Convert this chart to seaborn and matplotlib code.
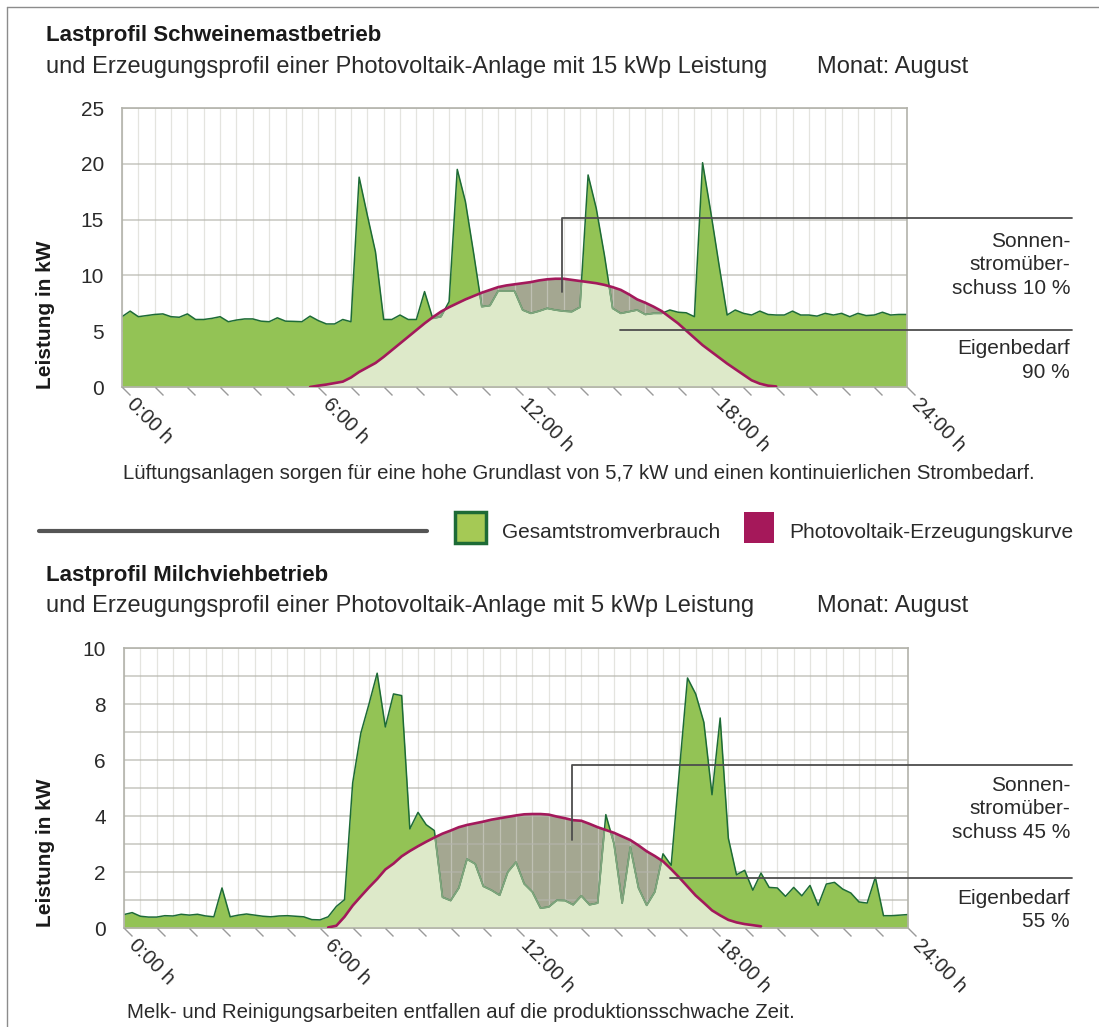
import numpy as np
import pandas as pd
import matplotlib
matplotlib.use("Agg")
import matplotlib.pyplot as plt
import matplotlib.transforms as mtransforms
from matplotlib.lines import Line2D
from matplotlib.patches import Rectangle
from matplotlib.path import Path
from matplotlib.ticker import MultipleLocator
import seaborn as sns

W, H = 1099, 1027

# time axis: quarter hours from 0:00 to 24:00
hours = np.arange(97) * 0.25
tick_hours = np.arange(25)
label_hours = [0, 6, 12, 18, 24]
time_labels = ["0:00 h", "6:00 h", "12:00 h", "18:00 h", "24:00 h"]

# Schweinemast: total consumption (kW), one row per hour
pig_load = [
    6.3, 6.8, 6.3, 6.4,
    6.5, 6.55, 6.3, 6.25,
    6.55, 6.05, 6.05, 6.15,
    6.3, 5.85, 6.0, 6.1,
    6.1, 5.9, 5.85, 6.2,
    5.9, 5.88, 5.85, 6.35,
    5.95, 5.65, 5.65, 6.05,
    5.85, 18.8, 15.4, 12.1,
    6.05, 6.05, 6.45, 6.05,
    6.05, 8.55, 6.15, 6.3,
    7.65, 19.5, 16.6, 12.0,
    7.2, 7.3, 8.6, 8.6,
    8.6, 6.9, 6.6, 6.8,
    7.05, 6.9, 6.8, 6.75,
    7.15, 19.0, 16.0, 11.8,
    7.05, 6.6, 6.75, 6.9,
    6.5, 6.6, 6.6, 6.9,
    6.7, 6.65, 6.3, 20.1,
    15.7, 11.0, 6.45, 6.9,
    6.6, 6.45, 6.8, 6.5,
    6.45, 6.45, 6.8, 6.45,
    6.45, 6.35, 6.6, 6.45,
    6.6, 6.3, 6.6, 6.4,
    6.45, 6.7, 6.45, 6.5,
    6.5,
]

# Schweinemast: PV generation 15 kWp (kW), 5:45 to 20:00
pig_pv = [np.nan] * 23 + [
    0.0, 0.12, 0.22, 0.35, 0.48, 0.85, 1.35, 1.75, 2.15, 2.7,
    3.3, 3.9, 4.5, 5.1, 5.7, 6.25, 6.75, 7.15, 7.5, 7.85,
    8.15, 8.45, 8.7, 8.95, 9.1, 9.2, 9.3, 9.4, 9.55, 9.65,
    9.7, 9.7, 9.6, 9.5, 9.4, 9.3, 9.15, 8.95, 8.7, 8.3,
    7.85, 7.55, 7.2, 6.8, 6.25, 5.7, 5.05, 4.4, 3.75, 3.2,
    2.65, 2.1, 1.6, 1.1, 0.6, 0.3, 0.12, 0.05,
] + [np.nan] * 16

# Milchvieh: total consumption (kW)
dairy_load = [
    0.48, 0.55, 0.42, 0.39,
    0.39, 0.44, 0.43, 0.49,
    0.46, 0.49, 0.43, 0.40,
    1.43, 0.40, 0.46, 0.50,
    0.46, 0.42, 0.40, 0.43,
    0.44, 0.42, 0.40, 0.30,
    0.29, 0.40, 0.77, 1.01,
    5.18, 6.96, 8.0, 9.1,
    7.18, 8.36, 8.3, 3.54,
    4.13, 3.69, 3.48, 1.10,
    0.98, 1.43, 2.46, 2.29,
    1.49, 1.35, 1.17, 2.0,
    2.35, 1.58, 1.29, 0.71,
    0.75, 0.99, 0.98, 0.83,
    1.15, 0.83, 0.89, 4.05,
    3.01, 0.89, 2.89, 1.43,
    0.81, 1.29, 2.65, 2.24,
    5.6, 8.93, 8.36, 7.35,
    4.76, 7.5, 3.21, 1.9,
    2.06, 1.35, 1.96, 1.45,
    1.43, 1.13, 1.45, 1.15,
    1.52, 0.81, 1.57, 1.63,
    1.39, 1.25, 0.93, 0.89,
    1.81, 0.44, 0.44, 0.46,
    0.48,
]

# Milchvieh: PV generation 5 kWp (kW), 6:15 to 19:30
dairy_pv = [np.nan] * 25 + [
    0.02, 0.08, 0.4, 0.8, 1.13, 1.45, 1.75, 2.09, 2.3, 2.56,
    2.75, 2.92, 3.08, 3.23, 3.37, 3.48, 3.6, 3.68, 3.74, 3.8,
    3.87, 3.92, 3.97, 4.02, 4.06, 4.07, 4.07, 4.05, 3.98, 3.92,
    3.85, 3.83, 3.72, 3.6, 3.5, 3.4, 3.27, 3.14, 2.95, 2.74,
    2.57, 2.38, 2.1, 1.8, 1.48, 1.16, 0.9, 0.63, 0.45, 0.29,
    0.2, 0.14, 0.1, 0.06,
] + [np.nan] * 18

C_GREEN = "#93c355"
C_GREEN_EDGE = "#1d6b36"
C_LIGHT = "#dde9c9"
C_LIGHT_EDGE = "#7fa57d"
C_SURPLUS = "#a4a791"
C_PV = "#a3195b"
C_TEXT = "#2a2a2a"
C_LEADER = "#4d4d4d"

sns.set_theme(style="white")
plt.rcParams["font.family"] = ["Liberation Sans", "DejaVu Sans"]

fig = plt.figure(figsize=(W / 100, H / 100), dpi=100)


def fx(x):
    return x / W


def fy(y):
    return 1 - y / H


def fig_line(xs, ys, color=C_LEADER, lw=1.3):
    fig.add_artist(Line2D([fx(x) for x in xs], [fy(y) for y in ys],
                          transform=fig.transFigure, color=color, lw=lw))


def fig_text(x, y, s, **kw):
    kw.setdefault("color", C_TEXT)
    kw.setdefault("va", "baseline")
    fig.text(fx(x), fy(y), s, **kw)


tick_marker = Path([(0, 0), (1, -1)], [Path.MOVETO, Path.LINETO])


def draw_profile(ax, load, pv, ymax, label_step, grid_step):
    load = np.asarray(load, dtype=float)
    pv = np.asarray(pv, dtype=float)
    pv0 = np.nan_to_num(pv)
    ax.set_xlim(0, 24)
    ax.set_ylim(0, ymax)

    # surplus (PV above consumption)
    ax.fill_between(hours, load, pv0, where=pv0 > load, interpolate=True,
                    color=C_SURPLUS, lw=0, zorder=0.3)
    # consumption above PV
    dark = ax.fill_between(hours, 0, load, color=C_GREEN, lw=0, zorder=1)
    # self-consumed PV: PV area clipped to consumption area
    light = ax.fill_between(hours, 0, pv0, color=C_LIGHT, lw=0, zorder=1.1)
    light.set_clip_path(dark.get_paths()[0], ax.transData)

    df = pd.DataFrame({"t": hours, "load": load, "pv": pv})
    sns.lineplot(data=df, x="t", y="load", color=C_GREEN_EDGE, lw=1.1,
                 estimator=None, ax=ax, zorder=2)
    sns.lineplot(data=df, x="t", y="load", color=C_LIGHT_EDGE, lw=1.3,
                 estimator=None, ax=ax, zorder=2.1)
    ax.lines[-1].set_clip_path(light.get_paths()[0], ax.transData)
    sns.lineplot(data=df.dropna(), x="t", y="pv", color=C_PV, lw=1.9,
                 estimator=None, ax=ax, zorder=3)

    ax.set_xlabel("")
    ax.set_ylabel("")
    ax.set_axisbelow(True)

    ax.set_xticks(label_hours)
    ax.set_xticklabels([])
    ax.xaxis.set_minor_locator(MultipleLocator(0.5))
    ax.tick_params(axis="x", which="both", length=0)
    ax.grid(True, axis="x", which="both", color="#d2d2ca", alpha=0.6, lw=0.9)

    ax.set_yticks(np.arange(0, ymax + 0.01, label_step))
    ax.yaxis.set_minor_locator(MultipleLocator(grid_step))
    ax.grid(True, axis="y", which="both", color="#b4b4ac", alpha=0.6, lw=1.4)
    ax.tick_params(axis="y", which="both", length=0, pad=13,
                   labelsize=15, labelcolor=C_TEXT)

    for s in ax.spines.values():
        s.set_visible(True)
        s.set_color("#b3b3ab")
        s.set_linewidth(1.2)

    # slanted hour ticks below the axis
    ax.plot(tick_hours, np.zeros(len(tick_hours)), ls="none",
            marker=tick_marker, ms=11.5, mfc="none", mec="#9a9a9a", mew=1,
            clip_on=False, zorder=3)

    offset = mtransforms.ScaledTranslation(8 / 100, -14 / 100, fig.dpi_scale_trans)
    trans = mtransforms.blended_transform_factory(ax.transData, ax.transAxes) + offset
    for h, lab in zip(label_hours, time_labels):
        ax.text(h, 0, lab, transform=trans, rotation=-45, rotation_mode="anchor",
                ha="left", va="center", fontsize=14.5, color=C_TEXT, clip_on=False)


# frame
fig_line([7, 7], [1027, 7], color="#8c8c8c", lw=1)
fig_line([7, 1099], [7, 7], color="#8c8c8c", lw=1)

# ---- upper chart: Schweinemast
fig_text(46, 41, "Lastprofil Schweinemastbetrieb", fontsize=16, fontweight="bold", color="#1a1a1a")
fig_text(46, 73, "und Erzeugungsprofil einer Photovoltaik-Anlage mit 15 kWp Leistung", fontsize=17)
fig_text(817, 73, "Monat: August", fontsize=17)

ax1 = fig.add_axes([fx(122), fy(387), 785 / W, 279 / H])
draw_profile(ax1, pig_load, pig_pv, 25, 5, 5)
fig_text(46, 315, "Leistung in kW", rotation=90, ha="center", va="center",
         fontsize=15, fontweight="bold", color="#1a1a1a")

fig_line([562, 562, 1072], [292, 218, 218])
fig_line([620, 1072], [330, 330])
for txt, y in [("Sonnen-", 247), ("stromüber-", 270), ("schuss 10 %", 294),
               ("Eigenbedarf", 354), ("90 %", 378)]:
    fig_text(1070, y, txt, ha="right", fontsize=15)

fig_text(123, 479, "Lüftungsanlagen sorgen für eine hohe Grundlast von 5,7 kW "
         "und einen kontinuierlichen Strombedarf.", fontsize=14.7)

# ---- separator and legend
fig_line([39, 427], [531, 531], color="#555555", lw=3)
fig.add_artist(Rectangle((fx(455), fy(543)), 31 / W, 31 / H, transform=fig.transFigure,
                         facecolor="#a5c955", edgecolor=C_GREEN_EDGE, lw=2.5))
fig_text(502, 538, "Gesamtstromverbrauch", fontsize=15)
fig.add_artist(Rectangle((fx(744), fy(543)), 30 / W, 31 / H, transform=fig.transFigure,
                         facecolor="#a5185a", edgecolor="none"))
fig_text(789, 538, "Photovoltaik-Erzeugungskurve", fontsize=15)

# ---- lower chart: Milchvieh
fig_text(46, 581, "Lastprofil Milchviehbetrieb", fontsize=16, fontweight="bold", color="#1a1a1a")
fig_text(46, 612, "und Erzeugungsprofil einer Photovoltaik-Anlage mit 5 kWp Leistung", fontsize=17)
fig_text(817, 612, "Monat: August", fontsize=17)

ax2 = fig.add_axes([fx(124), fy(928), 784 / W, 280 / H])
draw_profile(ax2, dairy_load, dairy_pv, 10, 2, 1)
fig_text(46, 853, "Leistung in kW", rotation=90, ha="center", va="center",
         fontsize=15, fontweight="bold", color="#1a1a1a")

fig_line([572, 572, 1072], [840, 765, 765])
fig_line([670, 1072], [878, 878])
for txt, y in [("Sonnen-", 791), ("stromüber-", 814), ("schuss 45 %", 838),
               ("Eigenbedarf", 904), ("55 %", 927)]:
    fig_text(1070, y, txt, ha="right", fontsize=15)

fig_text(127, 1018, "Melk- und Reinigungsarbeiten entfallen auf die produktionsschwache Zeit.",
         fontsize=14.7)

fig.savefig("out.png", dpi=100)
